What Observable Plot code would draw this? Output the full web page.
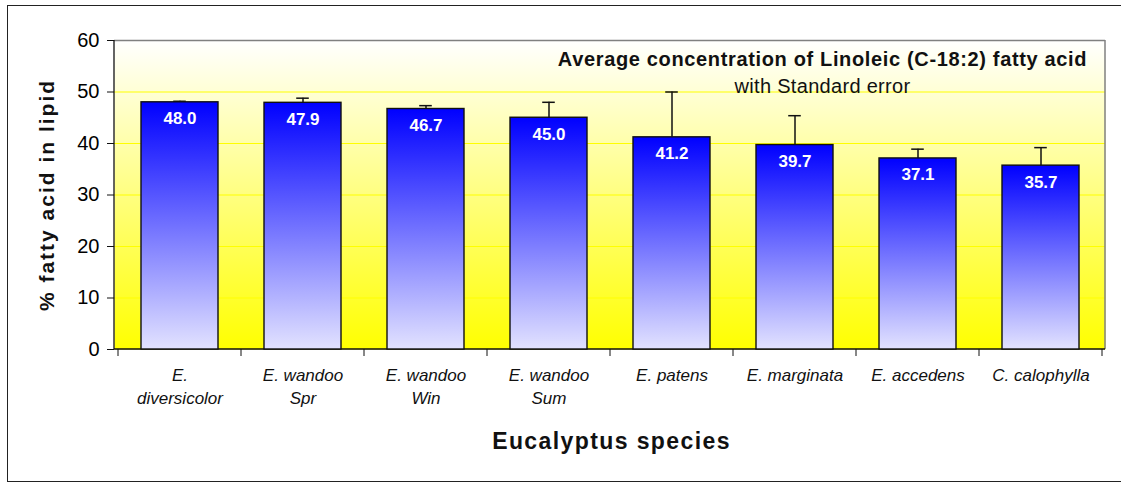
<!DOCTYPE html>
<html>
<head>
<meta charset="utf-8">
<script src="https://cdn.jsdelivr.net/npm/d3@7"></script>
<script src="https://cdn.jsdelivr.net/npm/@observablehq/plot@0.6"></script>
<style>
  html, body { margin: 0; padding: 0; background: #fff; }
  #wrap { position: relative; width: 1121px; height: 484px; overflow: hidden; }
  #border { position: absolute; left: 7px; top: 5px; width: 1130px; height: 477px;
            border: 1px solid #222; box-sizing: border-box; pointer-events: none; }
  svg { font-family: "Liberation Sans", Arial, sans-serif; }
</style>
</head>
<body>
<div id="wrap"><div id="border"></div></div>
<script>
const categories = ["E.\ndiversicolor", "E. wandoo\nSpr", "E. wandoo\nWin", "E. wandoo\nSum",
                    "E. patens", "E. marginata", "E. accedens", "C. calophylla"];
const values = [48.0, 47.9, 46.7, 45.0, 41.2, 39.7, 37.1, 35.7];
const stdErrors = [0.2, 0.9, 0.65, 3.0, 8.8, 5.7, 1.8, 3.5];
const yTicks = [0, 10, 20, 30, 40, 50, 60];
const gridValues = [10, 20, 30, 40, 50];
const titleText = "Average concentration of Linoleic (C-18:2) fatty acid";
const subtitleText = "with Standard error";
const xTitle = "Eucalyptus species";
const yTitle = "% fatty acid in lipid";

const data = categories.map((c, i) => ({cat: c, value: values[i], se: stdErrors[i]}));

const W = 1121, H = 484, ML = 114, MR = 16, MT = 40, MB = 135;
const pIn = 0.375, pOut = 0.1875;
const step = (W - ML - MR) / categories.length;
const bw = step * (1 - pIn);
const capW = 13;

const defs = () => {
  const d = d3.create("svg:defs");
  const g1 = d.append("linearGradient").attr("id", "barGrad").attr("x1", 0).attr("y1", 0).attr("x2", 0).attr("y2", 1);
  g1.append("stop").attr("offset", "0%").attr("stop-color", "#0000FF");
  g1.append("stop").attr("offset", "100%").attr("stop-color", "#E2E2FF");
  const g2 = d.append("linearGradient").attr("id", "bgGrad").attr("x1", 0).attr("y1", 0).attr("x2", 0).attr("y2", 1);
  g2.append("stop").attr("offset", "0%").attr("stop-color", "#FFFFFF");
  g2.append("stop").attr("offset", "100%").attr("stop-color", "#FFFF00");
  return d.node();
};

const axisLines = (index, scales, values, dims) => {
  const g = d3.create("svg:g");
  const x = scales.x, y = scales.y;
  const left = dims.marginLeft, right = dims.width - dims.marginRight;
  const y0 = y(0), yTop = y(60);
  g.append("line").attr("x1", right).attr("x2", right).attr("y1", yTop).attr("y2", y0)
    .attr("stroke", "#808080").attr("stroke-width", 1.5);
  g.append("line").attr("x1", left).attr("x2", left).attr("y1", yTop).attr("y2", y0)
    .attr("stroke", "#111").attr("stroke-width", 1.3);
  g.append("line").attr("x1", left).attr("x2", right).attr("y1", y0).attr("y2", y0)
    .attr("stroke", "#111").attr("stroke-width", 1.3);
  const dom = x.domain();
  const st = typeof x.step === "function" ? x.step() : step;
  const bwd = typeof x.bandwidth === "function" ? x.bandwidth() : bw;
  const bounds = dom.map(c => x(c) - (st - bwd) / 2);
  bounds.push(x(dom[dom.length - 1]) + bwd + (st - bwd) / 2);
  for (const b of bounds) {
    g.append("line").attr("x1", b).attr("x2", b).attr("y1", y0).attr("y2", y0 + 7)
      .attr("stroke", "#111").attr("stroke-width", 1);
  }
  return g.node();
};

const chart = Plot.plot({
  width: W, height: H,
  marginLeft: ML, marginRight: MR, marginTop: MT, marginBottom: MB,
  style: {fontFamily: "Liberation Sans, Arial, sans-serif", background: "transparent", overflow: "visible"},
  x: {domain: categories, paddingInner: pIn, paddingOuter: pOut, label: null},
  y: {domain: [0, 60], label: null},
  marks: [
    defs,
    Plot.frame({fill: "url(#bgGrad)", stroke: null}),
    Plot.ruleY(gridValues, {stroke: "#FFFF00", strokeWidth: 1.2}),
    Plot.ruleY([60], {stroke: "#808080", strokeWidth: 1.5}),
    axisLines,
    Plot.axisY({ticks: yTicks, tickSize: 7, tickPadding: 8, fontSize: 20, label: null, stroke: "#111"}),
    Plot.axisX({tickSize: 0, tickPadding: 14, fontSize: 17, fontStyle: "italic", lineHeight: 1.41, label: null, fill: "#111"}),
    Plot.barY(data, {x: "cat", y: "value", fill: "url(#barGrad)", stroke: "#111", strokeWidth: 1.4}),
    Plot.ruleX(data, {x: "cat", y1: "value", y2: d => d.value + d.se, stroke: "#111", strokeWidth: 1.5}),
    Plot.tickY(data, {x: "cat", y: d => d.value + d.se, stroke: "#111", strokeWidth: 1.5,
                      insetLeft: (bw - capW) / 2, insetRight: (bw - capW) / 2}),
    Plot.text(data, {x: "cat", y: "value", text: d => d.value.toFixed(1), dy: 16.6,
                     fill: "white", fontWeight: "bold", fontSize: 17}),
    Plot.text([titleText], {frameAnchor: "top", dx: 212.5, dy: 25, lineAnchor: "bottom",
                            fontWeight: "bold", fontSize: 20, fill: "#111"}),
    Plot.text([subtitleText], {frameAnchor: "top", dx: 212.5, dy: 52, lineAnchor: "bottom",
                               fontSize: 20, fill: "#111"}),
    Plot.text([xTitle], {frameAnchor: "bottom", dx: 1.5, dy: 99, lineAnchor: "bottom",
                         fontWeight: "bold", fontSize: 23, fill: "#111"}),
    Plot.text([yTitle], {frameAnchor: "left", dx: -61, dy: 0, rotate: -90, lineAnchor: "bottom",
                         textAnchor: "middle", fontWeight: "bold", fontSize: 21, fill: "#111"})
  ]
});

d3.select(chart).selectAll("text").each(function () {
  const t = this.textContent;
  if (t === titleText) this.style.letterSpacing = "0.65px";
  else if (t === subtitleText) this.style.letterSpacing = "0.3px";
  else if (t === xTitle) this.style.letterSpacing = "1.4px";
  else if (t === yTitle) this.style.letterSpacing = "2px";
});

document.getElementById("wrap").prepend(chart);
</script>
</body>
</html>
